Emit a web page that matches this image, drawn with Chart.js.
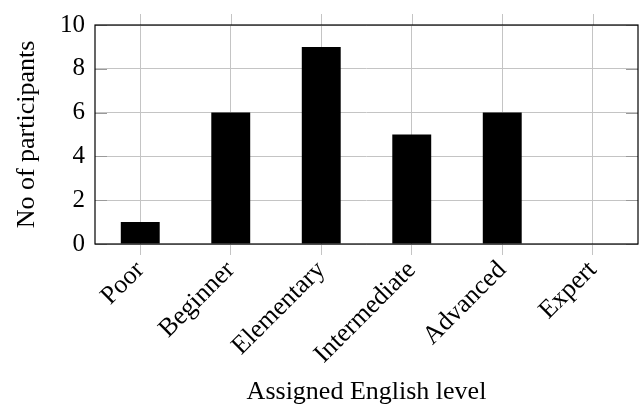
<!DOCTYPE html>
<html>
<head>
<meta charset="utf-8">
<script src="https://cdn.jsdelivr.net/npm/chart.js@4"></script>
<style>
  html, body { margin: 0; padding: 0; background: #fff; }
  #wrap { width: 641px; height: 412px; }
</style>
</head>
<body>
<div id="wrap"><canvas id="c" width="641" height="412"></canvas></div>
<script>
// English level categories and participant counts
const levels = ['Poor', 'Beginner', 'Elementary', 'Intermediate', 'Advanced', 'Expert'];
const participants = [1, 6, 9, 5, 6, 0];
const yTicks = [0, 2, 4, 6, 8, 10];

const FONT = '"Liberation Serif", "Times New Roman", serif';

// Frame, inward y ticks and x grid lines reaching past the frame
const framePlugin = {
  id: 'frame',
  afterDraw(chart) {
    const { ctx, chartArea: a, scales } = chart;
    ctx.save();
    // x grid lines above the frame
    ctx.strokeStyle = '#c4c4c4';
    ctx.lineWidth = 1;
    scales.x.ticks.forEach((t, i) => {
      const x = Math.round(scales.x.getPixelForTick(i)) + 0.5;
      ctx.beginPath();
      ctx.moveTo(x, a.top - 11);
      ctx.lineTo(x, a.top);
      ctx.stroke();
    });
    // inward y ticks on both sides
    ctx.strokeStyle = '#9a9a9a';
    yTicks.forEach(v => {
      const y = Math.round(scales.y.getPixelForValue(v)) + 0.5;
      ctx.beginPath();
      ctx.moveTo(a.left, y); ctx.lineTo(a.left + 12, y);
      ctx.moveTo(a.right - 12, y); ctx.lineTo(a.right, y);
      ctx.stroke();
    });
    // axis frame
    ctx.strokeStyle = '#000';
    ctx.lineWidth = 1.2;
    ctx.strokeRect(a.left, a.top, a.right - a.left, a.bottom - a.top);
    ctx.restore();
  }
};

new Chart(document.getElementById('c'), {
  type: 'bar',
  data: {
    labels: levels,
    datasets: [{
      data: participants,
      backgroundColor: '#000',
      borderWidth: 0,
      barPercentage: 0.43,
      categoryPercentage: 1.0
    }]
  },
  options: {
    responsive: false,
    animation: false,
    devicePixelRatio: 1,
    layout: { padding: { top: 21, right: 3, left: 0, bottom: 0 } },
    plugins: { legend: { display: false }, tooltip: { enabled: false } },
    scales: {
      x: {
        offset: true,
        grid: { color: '#c4c4c4', lineWidth: 1, drawTicks: true, tickLength: 11, tickColor: '#c4c4c4', offset: false },
        border: { display: false },
        ticks: {
          color: '#000',
          font: { family: FONT, size: 26 },
          minRotation: 45, maxRotation: 45,
          padding: 0
        },
        title: {
          display: true,
          text: 'Assigned English level',
          color: '#000',
          font: { family: FONT, size: 26 },
          padding: { top: 0, bottom: 4 }
        },
        afterFit(scale) { scale.height = 168; }
      },
      y: {
        min: 0, max: 10,
        afterBuildTicks(scale) { scale.ticks = yTicks.map(v => ({ value: v })); },
        grid: { color: '#c4c4c4', lineWidth: 1, drawTicks: false },
        border: { display: false },
        ticks: {
          color: '#000',
          font: { family: FONT, size: 25 },
          padding: 10
        },
        title: {
          display: true,
          text: 'No of participants',
          color: '#000',
          font: { family: FONT, size: 26 },
          padding: { top: 12, bottom: 0 }
        },
        afterFit(scale) { scale.width = 95; }
      }
    }
  },
  plugins: [framePlugin]
});
</script>
</body>
</html>
